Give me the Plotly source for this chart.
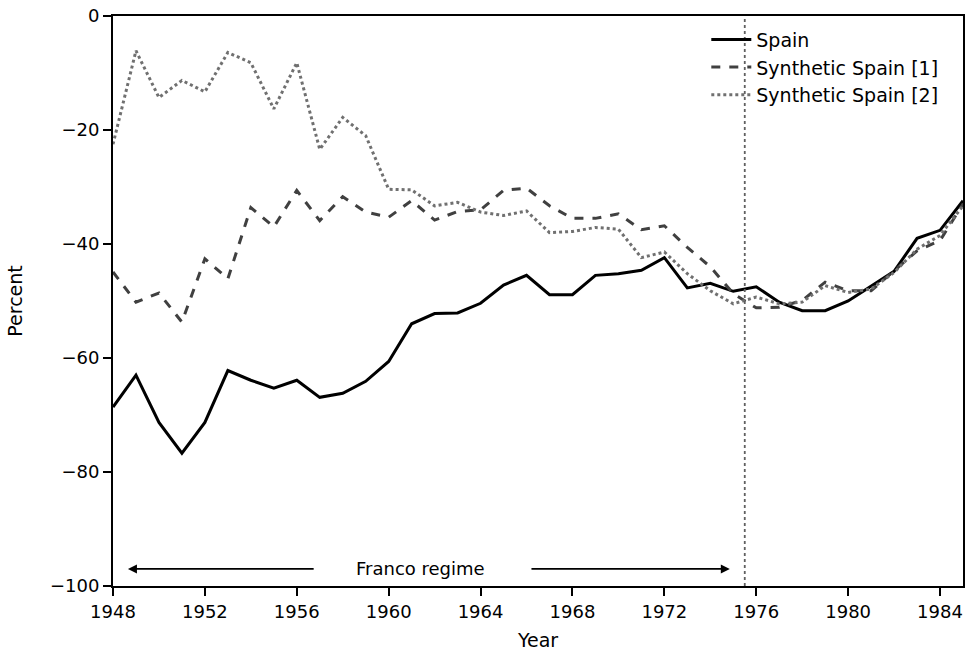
import plotly.graph_objects as go

years = list(range(1948, 1986))
spain = [-68.6, -63.0, -71.3, -76.7, -71.3, -62.2, -63.9, -65.3, -63.9, -66.9,
         -66.2, -64.1, -60.6, -54.0, -52.2, -52.1, -50.4, -47.2, -45.5, -48.9,
         -48.9, -45.5, -45.2, -44.6, -42.4, -47.7, -46.9, -48.3, -47.5, -50.2,
         -51.7, -51.7, -50.0, -47.4, -44.8, -39.0, -37.6, -32.4]
synth1 = [-44.9, -50.2, -48.6, -53.7, -42.6, -46.1, -33.6, -37.0, -30.6, -35.9,
          -31.7, -34.4, -35.3, -32.4, -35.8, -34.3, -34.0, -30.6, -30.2, -33.3,
          -35.5, -35.5, -34.7, -37.5, -36.8, -40.6, -44.0, -48.7, -51.2, -51.1,
          -49.9, -46.7, -48.2, -48.2, -44.7, -41.2, -39.4, -33.0]
synth2 = [-22.5, -6.1, -14.3, -11.3, -13.3, -6.4, -8.2, -16.3, -8.2, -23.4,
          -17.8, -21.0, -30.4, -30.5, -33.3, -32.7, -34.4, -35.0, -34.2, -38.0,
          -37.8, -37.1, -37.4, -42.4, -41.4, -45.2, -48.2, -50.5, -49.3, -50.5,
          -50.2, -47.3, -48.5, -47.9, -45.0, -40.9, -38.5, -33.3]
x_ticks = [1948, 1952, 1956, 1960, 1964, 1968, 1972, 1976, 1980, 1984]
y_ticks = [0, -20, -40, -60, -80, -100]
treatment_year = 1975.5
regime_start, regime_end = 1948.65, 1974.85
regime_label_x, regime_y = 1961.4, -97
label_left_gap, label_right_gap = 1956.8, 1966.15

font = "DejaVu Sans"
fig = go.Figure()
fig.add_trace(go.Scatter(x=years, y=spain, mode="lines", name="Spain",
                         line=dict(color="black", width=3)))
fig.add_trace(go.Scatter(x=years, y=synth1, mode="lines", name="Synthetic Spain [1]",
                         line=dict(color="#404040", width=3, dash="dash")))
fig.add_trace(go.Scatter(x=years, y=synth2, mode="lines", name="Synthetic Spain [2]",
                         line=dict(color="#707070", width=3, dash="dot")))

fig.add_shape(type="line", x0=treatment_year, x1=treatment_year, y0=0, y1=1,
              xref="x", yref="paper", line=dict(color="#606060", width=1.8, dash="dot"))

fig.add_annotation(x=regime_start, y=regime_y, ax=label_left_gap, ay=regime_y,
                   xref="x", yref="y", axref="x", ayref="y", text="", showarrow=True,
                   arrowhead=2, arrowsize=1, arrowwidth=1.8, arrowcolor="black")
fig.add_annotation(x=regime_end, y=regime_y, ax=label_right_gap, ay=regime_y,
                   xref="x", yref="y", axref="x", ayref="y", text="", showarrow=True,
                   arrowhead=2, arrowsize=1, arrowwidth=1.8, arrowcolor="black")
fig.add_annotation(x=regime_label_x, y=regime_y, xref="x", yref="y", text="Franco regime",
                   showarrow=False, font=dict(family=font, size=18, color="black"))

fig.update_layout(
    width=970, height=657,
    margin=dict(l=113, r=5, t=15, b=71),
    paper_bgcolor="white", plot_bgcolor="white",
    font=dict(family=font, size=18, color="black"),
    showlegend=True,
    legend=dict(x=0.698, y=0.992, xanchor="left", yanchor="top",
                bgcolor="rgba(255,255,255,0)", font=dict(size=19), tracegroupgap=0,
                itemwidth=40),
    xaxis=dict(range=[1948, 1985], tickvals=x_ticks, showgrid=False, zeroline=False,
               showline=True, linecolor="black", linewidth=2, mirror=True,
               ticks="outside", ticklen=8, tickwidth=1.6, tickcolor="black",
               title=dict(text="Year", font=dict(size=19), standoff=13)),
    yaxis=dict(range=[-100, 0], tickvals=y_ticks, showgrid=False, zeroline=False,
               showline=True, linecolor="black", linewidth=2, mirror=True,
               ticks="outside", ticklen=8, tickwidth=1.6, tickcolor="black",
               title=dict(text="Percent", font=dict(size=19), standoff=22)),
)
fig.write_html("out.html", config={"displayModeBar": False},
               post_script="document.body.style.margin='0';document.body.style.padding='0';")
